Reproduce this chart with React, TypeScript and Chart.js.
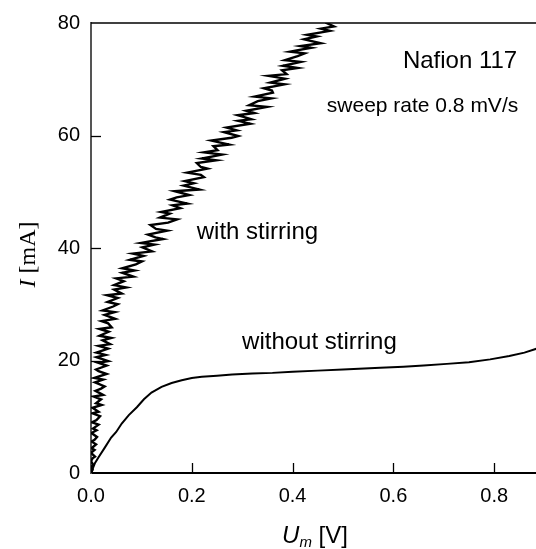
import React, { useEffect, useRef } from 'react';
import { Chart, registerables } from 'chart.js';

Chart.register(...registerables);

// ---- data ----
// "with stirring": membrane voltage U_m [V] vs current I [mA] (noisy in U)
const stirI: number[] = [
  0, 0.6, 1.1, 1.4, 2.1, 2.6, 2.9, 3.6, 4.1, 4.4,
  5.1, 5.6, 5.9, 6.4, 7.1, 7.6, 7.9, 8.6, 9.0, 9.4,
  10.1, 10.6, 10.9, 11.6, 12.1, 12.4, 13.1, 13.6, 13.9, 14.6,
  15.0, 15.4, 16.1, 16.6, 16.9, 17.6, 18.1, 18.4, 19.1, 19.6,
  19.9, 20.6, 21.0, 21.4, 22.1,
  22.6, 22.9, 23.6, 24.0, 24.4, 25.1, 25.6, 25.9, 26.6, 27.0,
  27.4, 28.1, 28.6, 28.9, 29.6, 30.0, 30.4, 31.1, 31.6, 31.9,
  32.6, 33.0, 33.4, 34.1, 34.6, 34.9, 35.6, 36.0, 36.4, 37.1,
  37.6, 37.9, 38.6, 39.0, 39.4, 40.1,
  40.6, 40.9, 41.6, 41.9, 42.4, 43.1, 43.4, 44.1, 44.5, 45.1,
  45.4, 46.1, 46.4, 47.1, 47.6, 47.9, 48.6, 49.0, 49.4, 50.1,
  50.4, 51.1, 51.5, 51.9, 52.6, 53.0, 53.4, 54.1, 54.4, 55.1,
  55.6, 55.9, 56.6, 57.0, 57.4, 58.1, 58.4, 59.1, 59.6, 59.9,
  60.6, 60.9, 61.4, 62.1, 62.6, 62.9, 63.6, 64.0, 64.4, 65.1,
  65.4, 66.1, 66.6, 66.9, 67.6, 68.0, 68.4, 69.1, 69.4, 70.1,
  70.6, 70.9, 71.6, 72.0, 72.4, 73.1, 73.4, 74.1, 74.6, 74.9,
  75.6, 75.9, 76.4, 77.1, 77.6, 77.9, 78.6, 79.0, 79.4, 80.1,
];
const stirU: number[] = [
  0, 0.003, 0.000, 0.005, 0.000, 0.003, 0.008, 0.000, 0.007, 0.001,
  0.010, 0.001, 0.007, 0.012, 0.001, 0.011, 0.004, 0.015, 0.002, 0.011,
  0.018, 0.003, 0.015, 0.003, 0.021, 0.010, 0.020, 0.005, 0.024, 0.009,
  0.020, 0.027, 0.008, 0.024, 0.007, 0.031, 0.015, 0.010, 0.031, 0.014,
  0.034, 0.011, 0.029, 0.011, 0.034,
  0.015, 0.038, 0.023, 0.040, 0.017, 0.035, 0.017, 0.041, 0.034, 0.021,
  0.048, 0.027, 0.047, 0.023, 0.044, 0.053, 0.033, 0.053, 0.032, 0.061,
  0.046, 0.070, 0.046, 0.065, 0.050, 0.084, 0.062, 0.086, 0.062, 0.089,
  0.101, 0.077, 0.104, 0.083, 0.121, 0.102,
  0.126, 0.099, 0.143, 0.128, 0.113, 0.151, 0.129, 0.118, 0.153, 0.171,
  0.137, 0.156, 0.139, 0.177, 0.162, 0.191, 0.157, 0.170, 0.195, 0.166,
  0.215, 0.184, 0.204, 0.186, 0.224, 0.218, 0.191, 0.231, 0.218, 0.210,
  0.248, 0.220, 0.260, 0.224, 0.251, 0.243, 0.274, 0.239, 0.279, 0.292,
  0.264, 0.289, 0.269, 0.316, 0.292, 0.318, 0.291, 0.324, 0.308, 0.349,
  0.314, 0.331, 0.358, 0.325, 0.361, 0.359, 0.343, 0.384, 0.356, 0.385,
  0.352, 0.388, 0.379, 0.410, 0.381, 0.416, 0.385, 0.410, 0.424, 0.395,
  0.437, 0.416, 0.456, 0.423, 0.448, 0.429, 0.474, 0.456, 0.482, 0.465,
];

// "without stirring"
const plainU: number[] = [
  0, 0.002, 0.004, 0.008, 0.015, 0.028, 0.040, 0.050, 0.061, 0.075,
  0.091, 0.105, 0.120, 0.140, 0.160, 0.180, 0.200, 0.220, 0.250, 0.280,
  0.320, 0.360, 0.400, 0.450, 0.500, 0.574, 0.620, 0.660, 0.706, 0.750,
  0.792, 0.830, 0.860, 0.884,
];
const plainI: number[] = [
  0, 0.3, 0.9, 1.8, 2.8, 4.6, 6.3, 7.3, 8.8, 10.3,
  11.7, 13.1, 14.3, 15.3, 16.0, 16.5, 16.9, 17.1, 17.3, 17.5,
  17.7, 17.8, 18.0, 18.2, 18.4, 18.7, 18.9, 19.1, 19.4, 19.7,
  20.2, 20.8, 21.4, 22.1,
];

// axes
const X_MIN = 0;
const X_MAX = 0.883;
const X_STEP = 0.2;
const Y_MIN = 0;
const Y_MAX = 80;
const Y_STEP = 20;

// annotation texts and their anchor positions in data units
const noteTexts = ['Nafion 117', 'sweep rate 0.8 mV/s', 'with stirring', 'without stirring'];
const noteU = [0.8457, 0.8477, 0.2098, 0.2998];
const noteI = [72.07, 64.26, 41.64, 22.03];
const noteAlign: CanvasTextAlign[] = ['right', 'right', 'left', 'left'];
const noteSize = [24, 21, 24, 24];

const SANS = '"Liberation Sans", Arial, Helvetica, sans-serif';
const SERIF = '"Liberation Serif", "Times New Roman", serif';

const decorPlugin = {
  id: 'decor',
  afterDraw(chart: any) {
    const { ctx, chartArea: a, scales } = chart;
    const xs = scales.x;
    const ys = scales.y;
    ctx.save();
    // top frame line
    ctx.strokeStyle = '#000';
    ctx.lineWidth = 1.5;
    ctx.beginPath();
    ctx.moveTo(a.left, a.top);
    ctx.lineTo(a.right + 2, a.top);
    ctx.stroke();
    // inward ticks
    ctx.lineWidth = 1.3;
    xs.ticks.forEach((t: any) => {
      const px = Math.round(xs.getPixelForValue(t.value)) + 0.5;
      if (px <= a.left + 2) return;
      ctx.beginPath();
      ctx.moveTo(px, a.bottom);
      ctx.lineTo(px, a.bottom - 10);
      ctx.stroke();
    });
    ys.ticks.forEach((t: any) => {
      const py = Math.round(ys.getPixelForValue(t.value)) + 0.5;
      if (py >= a.bottom - 2 || py <= a.top + 2) return;
      ctx.beginPath();
      ctx.moveTo(a.left, py);
      ctx.lineTo(a.left + 10, py);
      ctx.stroke();
    });
    // annotations
    ctx.fillStyle = '#000';
    ctx.textBaseline = 'alphabetic';
    noteTexts.forEach((txt, i) => {
      ctx.font = `${noteSize[i]}px ${SANS}`;
      ctx.textAlign = noteAlign[i];
      ctx.fillText(txt, xs.getPixelForValue(noteU[i]), ys.getPixelForValue(noteI[i]));
    });
    // x axis title: U_m [V]
    ctx.textAlign = 'left';
    ctx.font = `italic 24px ${SANS}`;
    const wU = ctx.measureText('U').width;
    ctx.font = `italic 15px ${SANS}`;
    const wm = ctx.measureText('m').width;
    ctx.font = `24px ${SANS}`;
    const wV = ctx.measureText(' [V]').width;
    const total = wU + wm + wV;
    let sx = (a.left + a.right) / 2 + 1.5 - total / 2;
    const base = 543;
    ctx.font = `italic 24px ${SANS}`;
    ctx.fillText('U', sx, base);
    sx += wU;
    ctx.font = `italic 15px ${SANS}`;
    ctx.fillText('m', sx, base + 4);
    sx += wm;
    ctx.font = `24px ${SANS}`;
    ctx.fillText(' [V]', sx, base);
    // y axis title: I [mA]
    ctx.save();
    ctx.translate(35, (a.top + a.bottom) / 2 + 6.5);
    ctx.rotate(-Math.PI / 2);
    ctx.font = `italic 24px ${SERIF}`;
    const wI = ctx.measureText('I').width;
    ctx.font = `24px ${SERIF}`;
    const wR = ctx.measureText(' [mA]').width;
    let sy = -(wI + wR) / 2;
    ctx.font = `italic 24px ${SERIF}`;
    ctx.fillText('I', sy, 0);
    sy += wI;
    ctx.font = `24px ${SERIF}`;
    ctx.fillText(' [mA]', sy, 0);
    ctx.restore();
    ctx.restore();
  },
};

export default function App() {
  const ref = useRef<HTMLCanvasElement | null>(null);
  useEffect(() => {
    if (!ref.current) return;
    const stirring = stirU.map((u, i) => ({ x: u, y: stirI[i] }));
    const plain = plainU.map((u, i) => ({ x: u, y: plainI[i] }));
    const chart = new Chart(ref.current, {
      type: 'line',
      data: {
        datasets: [
          {
            label: 'with stirring',
            data: stirring,
            borderColor: '#000',
            borderWidth: 2.4,
            pointRadius: 0,
            tension: 0,
            fill: false,
          },
          {
            label: 'without stirring',
            data: plain,
            borderColor: '#000',
            borderWidth: 2,
            pointRadius: 0,
            tension: 0,
            fill: false,
          },
        ],
      },
      options: {
        responsive: false,
        animation: false,
        parsing: false,
        layout: { padding: { top: 19, right: 0, left: 0, bottom: 0 } },
        plugins: { legend: { display: false }, tooltip: { enabled: false } },
        scales: {
          x: {
            type: 'linear',
            min: X_MIN,
            max: X_MAX,
            afterFit: (s: any) => { s.height = 76; },
            ticks: {
              stepSize: X_STEP,
              includeBounds: false,
              padding: 11,
              color: '#000',
              font: { family: SANS, size: 20 },
              callback: (v: any) => Number(v).toFixed(1),
            },
            grid: { display: true, drawOnChartArea: false, drawTicks: false },
            border: { display: true, color: '#000', width: 2 },
          },
          y: {
            type: 'linear',
            min: Y_MIN,
            max: Y_MAX,
            afterFit: (s: any) => { s.width = 91; },
            ticks: {
              stepSize: Y_STEP,
              padding: 11,
              color: '#000',
              font: { family: SANS, size: 20 },
            },
            grid: { display: true, drawOnChartArea: false, drawTicks: false },
            border: { display: true, color: '#555', width: 2 },
          },
        },
      },
      plugins: [decorPlugin],
    } as any);
    return () => chart.destroy();
  }, []);
  return (
    <div style={{ position: 'absolute', left: 0, top: 0, width: 536, height: 549, background: '#fff' }}>
      <canvas ref={ref} width={536} height={549} style={{ display: 'block' }} />
    </div>
  );
}
